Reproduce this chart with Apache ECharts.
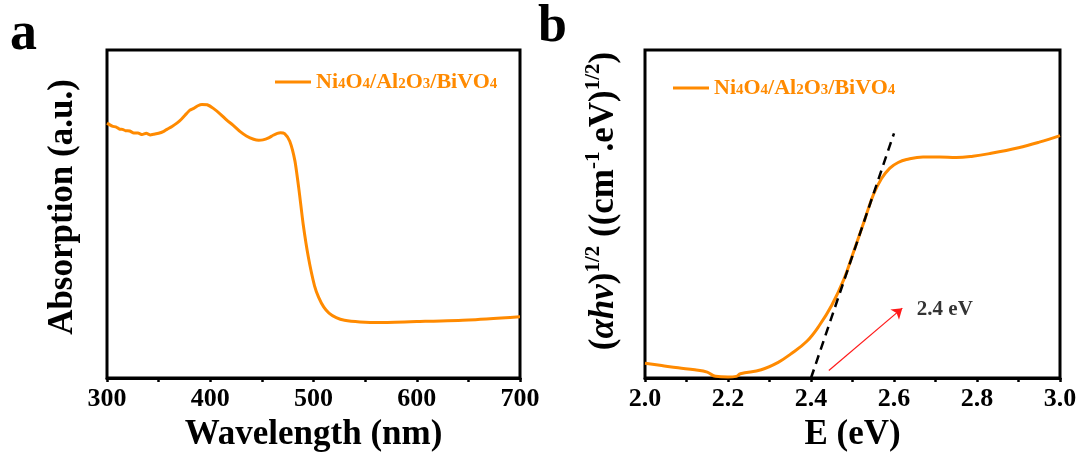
<!DOCTYPE html>
<html>
<head>
<meta charset="utf-8">
<script src="https://cdn.jsdelivr.net/npm/echarts@6/dist/echarts.min.js"></script>
<style>html,body{margin:0;padding:0;background:#fff;}#c{width:1083px;height:457px;}</style>
</head>
<body>
<div id="c"></div>
<script>
// ---------- Panel a: UV-vis absorption ----------
const wavelength = [300,305,309,312,315,318,322,326,330,334,338,342,345,350,355,358,363,368,372,377,380,384,388,392,397,403,410,416,422,429,435,442,447,451,456,461,465,468,472,477,482,486,490,495,501,505,510,515,522,530,545,565,600,650,700];
const absorption = [0.777,0.768,0.765,0.759,0.758,0.754,0.753,0.747,0.747,0.742,0.746,0.741,0.743,0.746,0.752,0.758,0.767,0.778,0.789,0.806,0.816,0.822,0.830,0.834,0.833,0.822,0.804,0.786,0.771,0.751,0.738,0.728,0.725,0.726,0.731,0.740,0.746,0.748,0.745,0.722,0.662,0.572,0.469,0.369,0.281,0.246,0.216,0.198,0.184,0.176,0.171,0.169,0.172,0.177,0.187];

// ---------- Panel b: Tauc plot ----------
const energy = [2.00,2.04,2.08,2.12,2.15,2.17,2.20,2.22,2.23,2.28,2.32,2.35,2.39,2.42,2.45,2.48,2.50,2.53,2.55,2.57,2.59,2.61,2.63,2.67,2.71,2.75,2.79,2.83,2.90,2.95,3.00];
const tauc   = [0.045,0.038,0.031,0.025,0.018,0.005,0.003,0.005,0.013,0.025,0.047,0.072,0.112,0.160,0.222,0.303,0.375,0.485,0.558,0.608,0.640,0.657,0.666,0.674,0.674,0.672,0.676,0.684,0.702,0.719,0.739];
const tangentE = [2.4, 2.6];
const tangentY = [0.0, 0.746];
const arrowFrom = [2.443, 0.023];
const arrowTo   = [2.62, 0.213];
const gapLabelPos = [2.655, 0.21];
const gapLabel = '2.4 eV';

const seriesName = 'Ni4O4/Al2O3/BiVO4';
const ticksA = {min:300, max:700, step:50, labelStep:100};
const ticksB = {min:2.0, max:3.0, step:0.1};

const ORANGE = '#ff8a00';
const FONT = 'Liberation Serif';

const chart = echarts.init(document.getElementById('c'), null, {renderer:'canvas'});

function zip(a,b){ return a.map((v,i)=>[v,b[i]]); }

const legendRich = {
  n:{fontFamily:FONT,fontWeight:'bold',fontSize:22,color:ORANGE},
  s:{fontFamily:FONT,fontWeight:'bold',fontSize:15,color:ORANGE,verticalAlign:'bottom',padding:[0,0,1,0]}
};
const legendFmt = () => '{n|Ni}{s|4}{n|O}{s|4}{n|/Al}{s|2}{n|O}{s|3}{n|/BiVO}{s|4}';
const legendIcon = 'path://M0,0 L36,0 L36,3 L0,3 Z';

const axisTitle = {fontFamily:FONT,fontWeight:'bold',fontSize:35,color:'#000'};
const tickLabel = {fontFamily:FONT,fontWeight:'bold',fontSize:26,color:'#000',margin:8};

chart.setOption({
  animation:false,
  backgroundColor:'#fff',
  grid:[
    {left:107,top:50,width:413,height:333,show:true,borderColor:'#000',borderWidth:3,backgroundColor:'transparent'},
    {left:645,top:50,width:415,height:333,show:true,borderColor:'#000',borderWidth:3,backgroundColor:'transparent'}
  ],
  legend:[
    {left:270,top:66,itemWidth:36,itemHeight:3,icon:legendIcon,data:[{name:seriesName}],formatter:legendFmt,
     textStyle:{rich:legendRich},selectedMode:false},
    {left:668,top:72,itemWidth:36,itemHeight:3,icon:legendIcon,data:[{name:seriesName}],formatter:legendFmt,
     textStyle:{rich:legendRich},selectedMode:false}
  ],
  xAxis:[
    {type:'value',gridIndex:0,min:ticksA.min,max:ticksA.max,interval:ticksA.step,
     axisLine:{show:true,lineStyle:{color:'#000',width:3}},
     axisTick:{show:true,inside:false,length:4,lineStyle:{color:'#000',width:2.5}},
     axisLabel:Object.assign({},tickLabel,{formatter:v=> (Math.round(v)%ticksA.labelStep===0? String(Math.round(v)) : '')}),
     splitLine:{show:false},
     name:'Wavelength (nm)',nameLocation:'middle',nameGap:39,nameTextStyle:axisTitle},
    {type:'value',gridIndex:1,min:ticksB.min,max:ticksB.max,interval:ticksB.step,
     axisLine:{show:true,lineStyle:{color:'#000',width:3}},
     axisTick:{show:true,inside:false,length:4,lineStyle:{color:'#000',width:2.5}},
     axisLabel:Object.assign({},tickLabel,{formatter:v=> (Math.round(v*10)%2===0? v.toFixed(1) : '')}),
     splitLine:{show:false},
     name:'E (eV)',nameLocation:'middle',nameGap:39,nameTextStyle:axisTitle}
  ],
  yAxis:[
    {type:'value',gridIndex:0,min:0,max:1,
     axisLine:{show:false},axisTick:{show:false},axisLabel:{show:false},splitLine:{show:false},
     name:'Absorption (a.u.)',nameLocation:'middle',nameGap:27,nameRotate:90,
     nameTextStyle:Object.assign({},axisTitle,{padding:[0,0,0,14]})},
    {type:'value',gridIndex:1,min:0,max:1,
     axisLine:{show:false},axisTick:{show:false},axisLabel:{show:false},splitLine:{show:false},
     name:'{n|(}{i|αhν}{n|)}{p|1/2}{n| ((cm}{p|-1}{n|.eV)}{p|1/2}{n|)}',
     nameLocation:'middle',nameGap:20,nameRotate:90,
     nameTextStyle:{fontFamily:FONT,fontWeight:'bold',fontSize:35,color:'#000',padding:[0,0,0,26],
       rich:{
         n:{fontFamily:FONT,fontWeight:'bold',fontSize:35,color:'#000',lineHeight:42},
         i:{fontFamily:FONT,fontWeight:'bold',fontStyle:'italic',fontSize:35,color:'#000',lineHeight:42},
         p:{fontFamily:FONT,fontWeight:'bold',fontSize:21,color:'#000',verticalAlign:'top',lineHeight:42}
       }}}
  ],
  series:[
    {name:seriesName,type:'line',xAxisIndex:0,yAxisIndex:0,data:zip(wavelength,absorption),
     symbol:'none',smooth:0.2,lineStyle:{color:ORANGE,width:3},itemStyle:{color:ORANGE},silent:true},
    {name:seriesName,type:'line',xAxisIndex:1,yAxisIndex:1,data:zip(energy,tauc),
     symbol:'none',smooth:0.4,lineStyle:{color:ORANGE,width:3},itemStyle:{color:ORANGE},silent:true},
    {name:'tangent',type:'line',xAxisIndex:1,yAxisIndex:1,data:zip(tangentE,tangentY),
     symbol:'none',lineStyle:{color:'#000',width:2.5,type:[9,6]},z:5,silent:true,
     markLine:{silent:true,symbol:['none','arrow'],symbolSize:10,
       lineStyle:{color:'#ff1a1a',width:1.2,type:'solid'},label:{show:false},
       data:[[{coord:arrowFrom},{coord:arrowTo}]]}},
    {name:'label',type:'scatter',xAxisIndex:1,yAxisIndex:1,data:[gapLabelPos],symbolSize:0,silent:true,
     label:{show:true,position:'right',distance:0,formatter:gapLabel,
       fontFamily:FONT,fontWeight:'bold',fontSize:21,color:'#000'}}
  ],
  graphic:[
    {type:'text',left:10,top:8,style:{text:'a',font:'bold 54px "Liberation Serif"',fill:'#000'}},
    {type:'text',left:538,top:2,style:{text:'b',font:'bold 52px "Liberation Serif"',fill:'#000'}}
  ]
});
</script>
</body>
</html>
